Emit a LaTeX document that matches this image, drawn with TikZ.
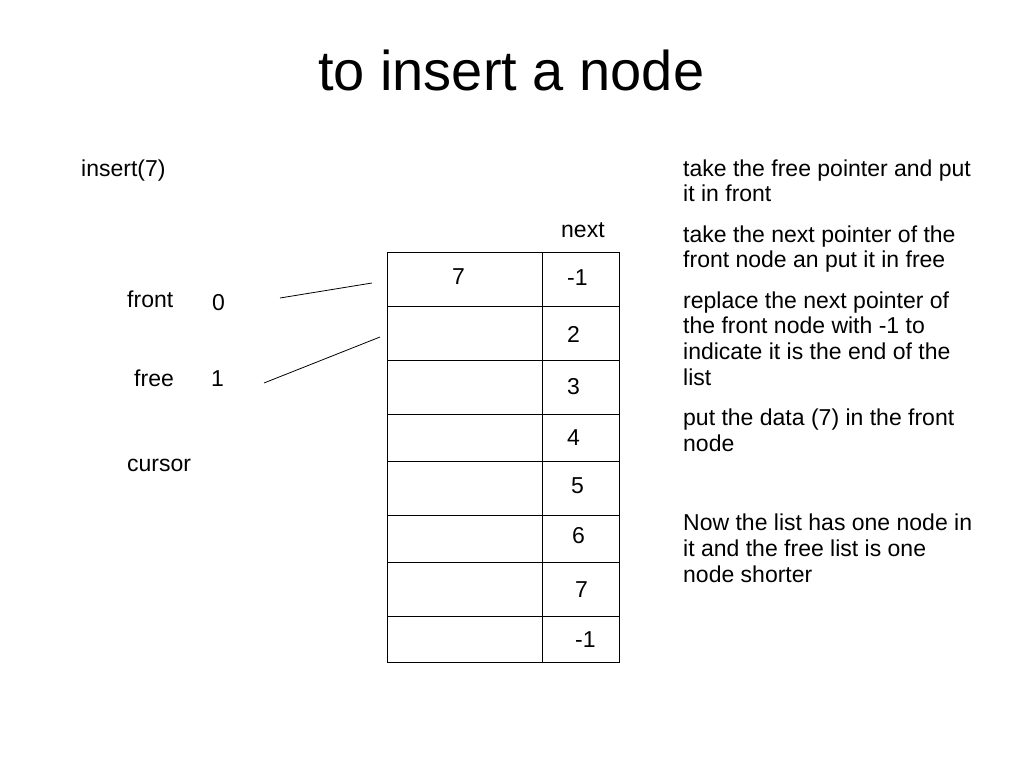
\documentclass[tikz,border=0pt]{standalone}
\usepackage{fontspec}
\setmainfont{Liberation Sans}
\begin{document}
\begin{tikzpicture}[x=1pt,y=-1pt,
  txt/.style={inner sep=0pt,anchor=base west,font=\fontsize{23}{25.6}\selectfont},
  para/.style={txt,align=left},
  cell/.style={draw=black,line width=0.9pt,inner sep=0pt,anchor=north west},
  ptr/.style={draw=black,line width=0.8pt}]
\path[fill=white,use as bounding box] (0,0) rectangle (1023,767);
% title
\node[inner sep=0pt,anchor=base west,font=\fontsize{56}{60}\selectfont] (title) at (318,91) {to insert a node};
% left labels
\node[txt] (ins) at (81,177) {insert(7)};
\node[txt] (next) at (561,238) {next};
\node[txt] (front) at (127,308) {front};
\node[txt] (frontv) at (212,311) {0};
\node[txt] (free) at (134,386) {free};
\node[txt] (freev) at (211,386) {1};
\node[txt] (cursor) at (127,471) {cursor};
% table cells
\node[cell,minimum width=155pt,minimum height=54pt] (d1) at (387,252) {};
\node[cell,minimum width=77pt,minimum height=54pt] (n1) at (542,252) {};
\node[cell,minimum width=155pt,minimum height=54pt] (d2) at (387,306) {};
\node[cell,minimum width=77pt,minimum height=54pt] (n2) at (542,306) {};
\node[cell,minimum width=155pt,minimum height=54pt] (d3) at (387,360) {};
\node[cell,minimum width=77pt,minimum height=54pt] (n3) at (542,360) {};
\node[cell,minimum width=155pt,minimum height=47pt] (d4) at (387,414) {};
\node[cell,minimum width=77pt,minimum height=47pt] (n4) at (542,414) {};
\node[cell,minimum width=155pt,minimum height=54pt] (d5) at (387,461) {};
\node[cell,minimum width=77pt,minimum height=54pt] (n5) at (542,461) {};
\node[cell,minimum width=155pt,minimum height=47pt] (d6) at (387,515) {};
\node[cell,minimum width=77pt,minimum height=47pt] (n6) at (542,515) {};
\node[cell,minimum width=155pt,minimum height=54pt] (d7) at (387,562) {};
\node[cell,minimum width=77pt,minimum height=54pt] (n7) at (542,562) {};
\node[cell,minimum width=155pt,minimum height=46pt] (d8) at (387,616) {};
\node[cell,minimum width=77pt,minimum height=46pt] (n8) at (542,616) {};
% table values
\node[txt] (v1) at (452,285) {7};
\node[txt] (w1) at (567,286) {-1};
\node[txt] (w2) at (567,343) {2};
\node[txt] (w3) at (567,394) {3};
\node[txt] (w4) at (567,445) {4};
\node[txt] (w5) at (571,493) {5};
\node[txt] (w6) at (572,543) {6};
\node[txt] (w7) at (575,597) {7};
\node[txt] (w8) at (575,647) {-1};
% pointer lines
\coordinate (fa) at (280,298);
\coordinate (fb) at (372,283);
\coordinate (ga) at (264,383);
\coordinate (gb) at (380,337);
\draw[ptr] (fa) -- (fb);
\draw[ptr] (ga) -- (gb);
% explanation
\node[para] (p1) at (683,202) {take the free pointer and put\\it in front};
\node[para] (p2) at (683,268) {take the next pointer of the\\front node an put it in free};
\node[para] (p3) at (683,385) {replace the next pointer of\\the front node with -1 to\\indicate it is the end of the\\list};
\node[para] (p4) at (683,451) {put the data (7) in the front\\node};
\node[para] (p5) at (683,582) {Now the list has one node in\\it and the free list is one\\node shorter};
\end{tikzpicture}
\end{document}
